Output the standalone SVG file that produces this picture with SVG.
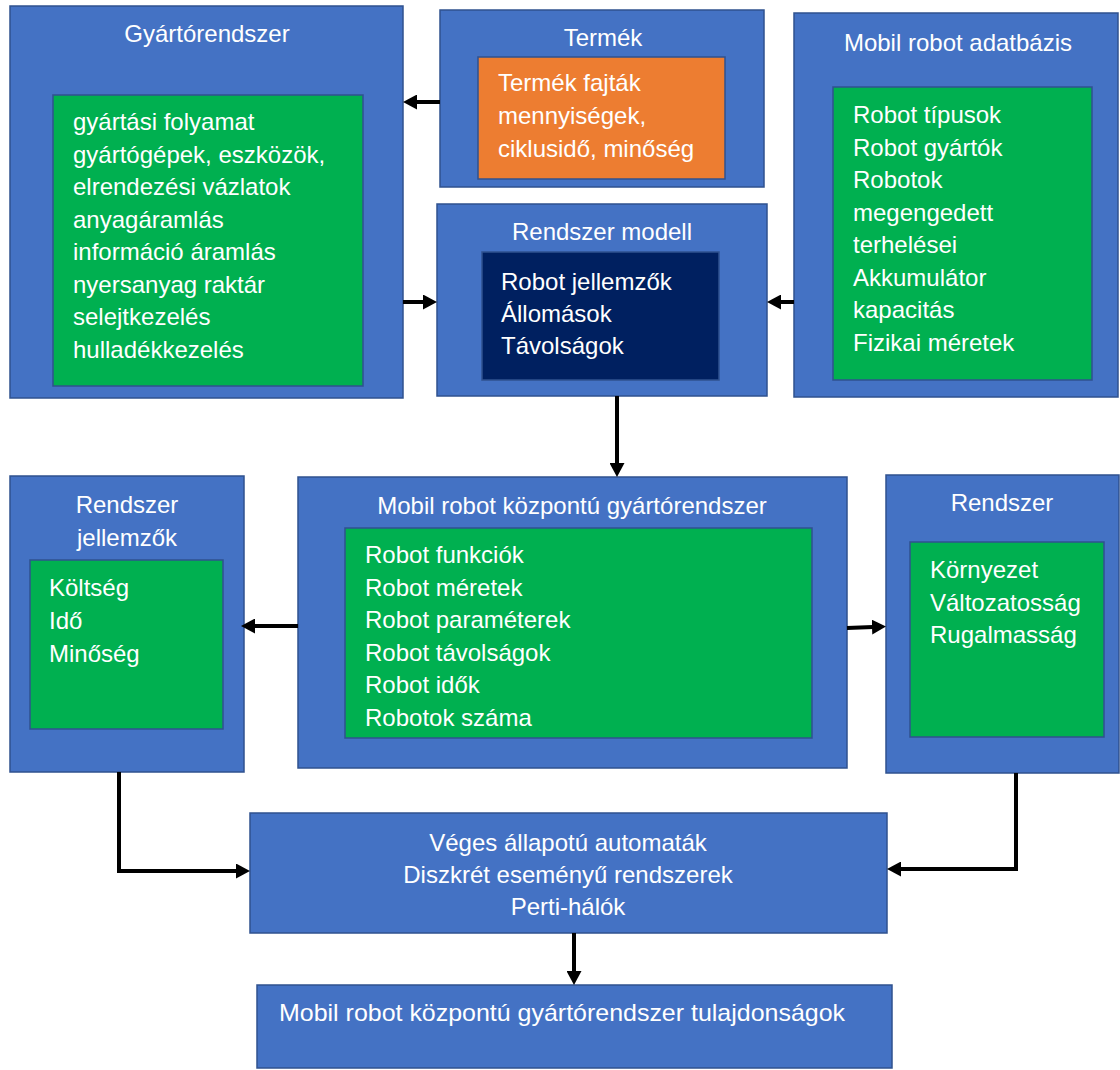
<svg xmlns="http://www.w3.org/2000/svg" width="1120" height="1070" viewBox="0 0 1120 1070">
<style>
.outer{fill:#4472C4;stroke:#2F528F;stroke-width:1.5}
.green{fill:#00B050;stroke:#2F528F;stroke-width:1.5}
.orange{fill:#ED7D31;stroke:#2F528F;stroke-width:1.5}
.navy{fill:#002060;stroke:#2F528F;stroke-width:1.5}
text{font-family:"Liberation Sans",Arial,sans-serif;font-size:24px;fill:#FFFFFF}
.t{text-anchor:middle}
.conn{fill:none;stroke:#000;stroke-width:4;marker-end:url(#ah)}
</style>
<defs>
<marker id="ah" viewBox="0 0 14 15" refX="1" refY="7.5" markerWidth="14" markerHeight="15" markerUnits="userSpaceOnUse" orient="auto">
<path d="M0,0 L14,7.5 L0,15 z" fill="#000"/>
</marker>
</defs>
<rect width="1120" height="1070" fill="#FFFFFF"/>

<g id="gyartorendszer">
<rect class="outer" x="10" y="6" width="393" height="392"/>
<text class="t" x="207" y="42">Gyártórendszer</text>
<rect class="green" x="53" y="95" width="310" height="291"/>
<text x="73" y="130">gyártási folyamat</text>
<text x="73" y="162.5">gyártógépek, eszközök,</text>
<text x="73" y="195">elrendezési vázlatok</text>
<text x="73" y="227.5">anyagáramlás</text>
<text x="73" y="260">információ áramlás</text>
<text x="73" y="292.5">nyersanyag raktár</text>
<text x="73" y="325">selejtkezelés</text>
<text x="73" y="357.5">hulladékkezelés</text>
</g>

<g id="termek">
<rect class="outer" x="440" y="10" width="324" height="177"/>
<text class="t" x="603" y="46">Termék</text>
<rect class="orange" x="478" y="57" width="247" height="122"/>
<text x="498" y="91">Termék fajták</text>
<text x="498" y="124">mennyiségek,</text>
<text x="498" y="157">ciklusidő, minőség</text>
</g>

<g id="rendszer-modell">
<rect class="outer" x="437" y="204" width="330" height="192"/>
<text class="t" x="602" y="240">Rendszer modell</text>
<rect class="navy" x="482" y="252" width="237" height="128"/>
<text x="501" y="290">Robot jellemzők</text>
<text x="501" y="322">Állomások</text>
<text x="501" y="354">Távolságok</text>
</g>

<g id="mobil-robot-adatbazis">
<rect class="outer" x="794" y="13" width="324" height="384"/>
<text class="t" x="958" y="51">Mobil robot adatbázis</text>
<rect class="green" x="833" y="87" width="259" height="293"/>
<text x="853" y="123">Robot típusok</text>
<text x="853" y="155.5">Robot gyártók</text>
<text x="853" y="188">Robotok</text>
<text x="853" y="220.5">megengedett</text>
<text x="853" y="253">terhelései</text>
<text x="853" y="285.5">Akkumulátor</text>
<text x="853" y="318">kapacitás</text>
<text x="853" y="350.5">Fizikai méretek</text>
</g>

<g id="rendszer-jellemzok">
<rect class="outer" x="10" y="476" width="234" height="296"/>
<text class="t" x="127" y="513">Rendszer</text>
<text class="t" x="127" y="546">jellemzők</text>
<rect class="green" x="30" y="560" width="193" height="169"/>
<text x="49" y="596">Költség</text>
<text x="49" y="629">Idő</text>
<text x="49" y="662">Minőség</text>
</g>

<g id="mobil-robot-kozpontu">
<rect class="outer" x="298" y="477" width="549" height="291"/>
<text class="t" x="572" y="514">Mobil robot központú gyártórendszer</text>
<rect class="green" x="345" y="528" width="467" height="210"/>
<text x="365" y="563">Robot funkciók</text>
<text x="365" y="595.5">Robot méretek</text>
<text x="365" y="628">Robot paraméterek</text>
<text x="365" y="660.5">Robot távolságok</text>
<text x="365" y="693">Robot idők</text>
<text x="365" y="725.5">Robotok száma</text>
</g>

<g id="rendszer">
<rect class="outer" x="886" y="475" width="233" height="298"/>
<text class="t" x="1002" y="511">Rendszer</text>
<rect class="green" x="910" y="542" width="194" height="195"/>
<text x="930" y="578">Környezet</text>
<text x="930" y="611">Változatosság</text>
<text x="930" y="643">Rugalmasság</text>
</g>

<g id="veges">
<rect class="outer" x="250" y="813" width="637" height="120"/>
<text class="t" x="568" y="851">Véges állapotú automaták</text>
<text class="t" x="568" y="883">Diszkrét eseményű rendszerek</text>
<text class="t" x="568" y="915">Perti-hálók</text>
</g>

<g id="tulajdonsagok">
<rect class="outer" x="257" y="985" width="635" height="83"/>
<text x="279" y="1021" textLength="566" lengthAdjust="spacingAndGlyphs">Mobil robot központú gyártórendszer tulajdonságok</text>
</g>

<g id="connectors">
<path class="conn" d="M440,102 H416"/>
<path class="conn" d="M403,302 H424"/>
<path class="conn" d="M794,302 H780"/>
<path class="conn" d="M617,396 V464"/>
<path class="conn" d="M298,626 H254"/>
<path class="conn" d="M847,628 L873,627"/>
<path class="conn" d="M119,772 V871 H237"/>
<path class="conn" d="M1016,773 V869 H900"/>
<path class="conn" d="M574,933 V972"/>
</g>
</svg>
